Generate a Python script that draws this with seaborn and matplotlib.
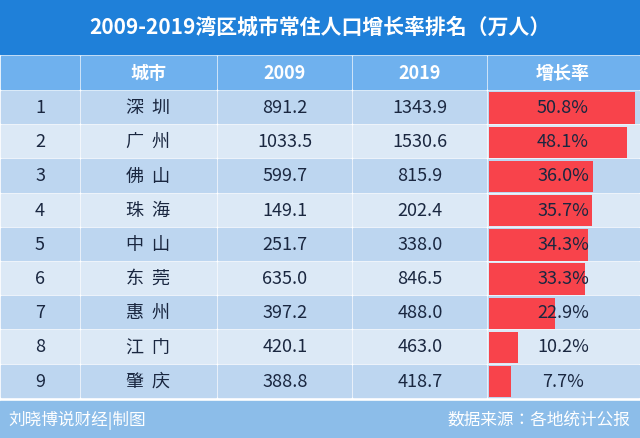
import matplotlib.pyplot as plt
import seaborn as sns
import pandas as pd
from matplotlib.patches import Rectangle
from matplotlib import font_manager

names = {f.name for f in font_manager.fontManager.ttflist}
cjk = [n for n in ['Noto Sans CJK SC', 'Noto Sans CJK JP', 'Noto Sans CJK TC',
                   'Noto Sans CJK KR'] if n in names]
plt.rcParams['font.family'] = 'sans-serif'
plt.rcParams['font.sans-serif'] = cjk + ['DejaVu Sans']

ranks = [1, 2, 3, 4, 5, 6, 7, 8, 9]
cities = ['深  圳', '广  州', '佛  山', '珠  海', '中  山', '东  莞', '惠  州', '江  门', '肇  庆']
pop_2009 = [891.2, 1033.5, 599.7, 149.1, 251.7, 635.0, 397.2, 420.1, 388.8]
pop_2019 = [1343.9, 1530.6, 815.9, 202.4, 338.0, 846.5, 488.0, 463.0, 418.7]
growth = [50.8, 48.1, 36.0, 35.7, 34.3, 33.3, 22.9, 10.2, 7.7]

df = pd.DataFrame({'rank': ranks, 'city': cities, 'y2009': pop_2009,
                   'y2019': pop_2019, 'growth': growth})

W, H = 640, 439
fig = plt.figure(figsize=(6.4, 4.39), dpi=100)
ax = fig.add_axes([0, 0, 1, 1])
ax.set_xlim(0, W)
ax.set_ylim(H, 0)
ax.axis('off')

ax.add_patch(Rectangle((0, 0), W, 55, color='#1f80d9'))
ax.text(W / 2, 27, '2009-2019湾区城市常住人口增长率排名（万人）', color='white',
        fontsize=15, fontweight='bold', ha='center', va='center')

cols = [0, 80, 217, 352, 487, W]
centers = [40, 148, 285, 420, 563]

hy0, hy1 = 57, 90
for i in range(5):
    ax.add_patch(Rectangle((cols[i] + 1, hy0), cols[i + 1] - cols[i] - 2, hy1 - hy0,
                           color='#6fb1ee'))
for c, t in zip(centers[1:], ['城市', '2009', '2019', '增长率']):
    ax.text(c, (hy0 + hy1) / 2, t, color='white', fontsize=13, fontweight='bold',
            ha='center', va='center')

top, rh = 92, 34.2
for r, row in df.iterrows():
    y0 = top + r * rh
    fc = '#bdd6f0' if r % 2 == 0 else '#dce9f6'
    for i in range(5):
        ax.add_patch(Rectangle((cols[i] + 1, y0), cols[i + 1] - cols[i] - 2, rh - 2,
                               color=fc, zorder=1))
    yc = y0 + (rh - 2) / 2
    kw = dict(color='#1a2740', fontsize=13, ha='center', va='center', zorder=4)
    ax.text(centers[0], yc, str(row['rank']), **kw)
    ax.text(centers[1], yc, row['city'], **kw)
    ax.text(centers[2], yc, f"{row['y2009']:.1f}", **kw)
    ax.text(centers[3], yc, f"{row['y2019']:.1f}", **kw)

ax.add_patch(Rectangle((0, 402), W, H - 402, color='#8cbde9'))
ax.text(8, 420, '刘晓博说财经|制图', color='white', fontsize=12, va='center')
ax.text(630, 420, '数据来源：各地统计公报', color='white', fontsize=12,
        va='center', ha='right')

# growth bars
bx = fig.add_axes([489 / W, 1 - (top + 9 * rh) / H, (W - 489) / W, 9 * rh / H])
bx.patch.set_alpha(0)
sns.barplot(data=df, x='growth', y='city', orient='h', color='#f8434b',
            saturation=1, width=0.92, ax=bx)
bx.set_xlim(0, 52.5)
bx.axis('off')

# percentage labels on top of bars
ov = fig.add_axes([0, 0, 1, 1])
ov.set_xlim(0, W)
ov.set_ylim(H, 0)
ov.axis('off')
for r, g in enumerate(growth):
    yc = top + r * rh + (rh - 2) / 2
    ov.text(centers[4], yc, f"{g:.1f}%", color='#1a2740', fontsize=13,
            ha='center', va='center')

fig.savefig('out.png', dpi=100)
